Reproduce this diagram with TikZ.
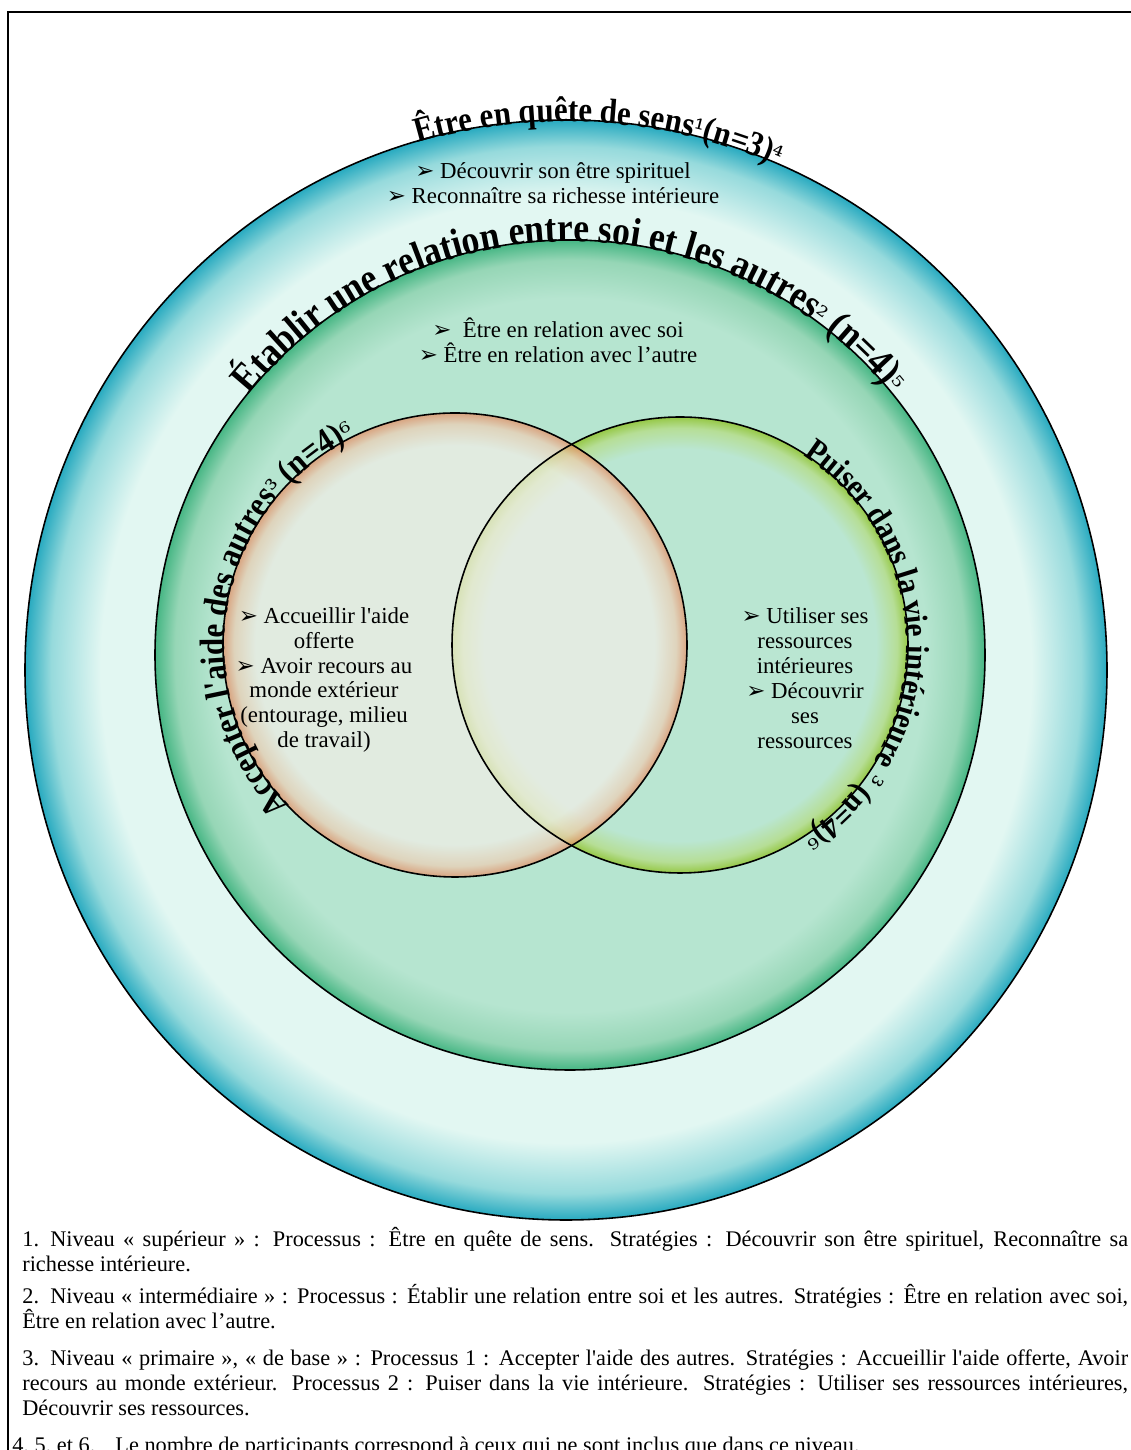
\documentclass[tikz,border=0pt]{standalone}
\usepackage{fontspec}
\setmainfont{Liberation Serif}[Ligatures=TeXOff]
\newfontfamily\labfam{Liberation Serif}[FakeStretch=0.88]
\newfontfamily\dingfont{DejaVu Sans}
\newfontfamily\supfam{DejaVu Serif}
\usetikzlibrary{calc,decorations.text}

\definecolor{tealrim}{RGB}{40,170,192}
\definecolor{tealmid}{RGB}{150,218,220}
\definecolor{tealpale}{RGB}{226,247,242}
\definecolor{greenrim}{RGB}{70,182,132}
\definecolor{greenmid}{RGB}{150,214,182}
\definecolor{greenpale}{RGB}{182,229,208}
\definecolor{orangerim}{RGB}{232,138,96}
\definecolor{orangemid}{RGB}{240,205,180}
\definecolor{orangepale}{RGB}{244,238,232}
\definecolor{limerim}{RGB}{150,200,70}
\definecolor{limemid}{RGB}{182,222,150}
\definecolor{limepale}{RGB}{186,230,210}

% rings: pale inside, coloured band at the rim (25bp is the edge of the path)
\pgfdeclareradialshading{outerring}{\pgfpoint{0bp}{0bp}}{color(0bp)=(tealpale); color(21.5bp)=(tealpale); color(23.8bp)=(tealmid); color(25bp)=(tealrim); color(50bp)=(tealrim)}
\pgfdeclareradialshading{middlering}{\pgfpoint{0bp}{0bp}}{color(0bp)=(greenpale); color(21.5bp)=(greenpale); color(23.8bp)=(greenmid); color(25bp)=(greenrim); color(50bp)=(greenrim)}
\pgfdeclareradialshading{orangering}{\pgfpoint{0bp}{0bp}}{color(0bp)=(orangepale); color(21.5bp)=(orangepale); color(23.8bp)=(orangemid); color(25bp)=(orangerim); color(50bp)=(orangerim)}
\pgfdeclareradialshading{limering}{\pgfpoint{0bp}{0bp}}{color(0bp)=(limepale); color(21.5bp)=(limepale); color(23.8bp)=(limemid); color(25bp)=(limerim); color(50bp)=(limerim)}

\newcommand\labfont{\labfam\fontsize{20}{23}\selectfont\bfseries}
\newcommand\biglabfont{\labfam\fontsize{23}{26}\selectfont\bfseries}
\newcommand\smalllabfont{\labfam\fontsize{19}{22}\selectfont\bfseries}
\newcommand\supfont{\supfam\fontsize{15}{17}\selectfont\mdseries}
\newcommand\puce{{\dingfont ➢}}

\begin{document}
\begin{tikzpicture}[x=0.02cm, y=0.02cm,
    ring/.style={draw=black, line width=0.9pt},
    bullets/.style={align=center, inner sep=0pt, font=\fontsize{13}{14.2}\selectfont},
    note/.style={anchor=base west, inner sep=0pt, text width=22.12cm, align=justify, font=\fontsize{12.7}{14.2}\selectfont},
    arclabel/.style={decorate, decoration={text along path, text={#1}, raise=-1pt}}
]
    \useasboundingbox (0,0) rectangle (1130,1450);
    \fill[white] (0,0) rectangle (1130,1450);

    % frame
    \draw[line width=1.3pt] (8,-10) -- (8,1438) -- (1140,1438);

    % centres
    \coordinate (oc) at (566,780);
    \coordinate (mc) at (570,795);
    \coordinate (lc) at (455,805);
    \coordinate (rc) at (680,805);

    % outer and middle rings
    \shade[shading=outerring] (oc) ellipse [x radius=541, y radius=550];
    \draw[ring] (oc) ellipse [x radius=541, y radius=550];
    \shade[shading=middlering] (mc) circle [radius=415];
    \draw[ring] (mc) circle [radius=415];

    % the two inner circles, overlapping
    \shade[shading=limering] (rc) circle [radius=228];
    \shade[shading=orangering, fill opacity=0.7] (lc) circle [radius=232];
    \draw[ring] (rc) circle [radius=228];
    \draw[ring] (lc) circle [radius=232];

    % titles along the rings
    \path[arclabel={|\labfont|Être en quête de sens|\supfont|¹|\labfont|(n=3)|\supfont|⁴}]
        ($(oc)+(106:541 and 550)$) arc [start angle=106, end angle=30, x radius=541, y radius=550];
    \path[arclabel={|\biglabfont|Établir une relation entre soi et les autres|\supfont|²|\biglabfont| (n=4)|\supfont|⁵}]
        ($(mc)+(141:415)$) arc [start angle=141, end angle=10, radius=415];
    \path[arclabel={|\labfont|Accepter l'aide des autres|\supfont|³|\labfont| (n=4)|\supfont|⁶}]
        ($(lc)+(224:232)$) arc [start angle=224, end angle=40, radius=232];
    \path[arclabel={|\smalllabfont|Puiser dans la vie intérieure|\supfont| ³|\smalllabfont| (n=4)|\supfont|⁶}]
        ($(rc)+(57:228)$) arc [start angle=57, end angle=-100, radius=228];

    % strategies
    \node[bullets] (sens) at (553,1267) {\puce{} Découvrir son être spirituel\\\puce{} Reconnaître sa richesse intérieure};
    \node[bullets] (relation) at (558,1110) {\puce{}\ \ Être en relation avec soi\\\puce{} Être en relation avec l’autre};
    \node[bullets] (aide) at (324,770) {\puce{} Accueillir l'aide\\offerte\\\puce{} Avoir recours au\\monde extérieur\\(entourage, milieu\\de travail)};
    \node[bullets] (puiser) at (805,772) {\puce{} Utiliser ses\\ressources\\intérieures\\\puce{} Découvrir\\ses\\ressources};

    % notes
    \node[note] (n1) at (22,203) {\noindent\hangindent=0.56cm\hangafter=1\makebox[0.56cm][l]{1.}Niveau «~supérieur~»~: Processus~: Être en quête de sens. Stratégies~: Découvrir son être spirituel, Reconnaître sa\linebreak richesse intérieure.};
    \node[note] (n2) at (22,146) {\noindent\hangindent=0.56cm\hangafter=1\makebox[0.56cm][l]{2.}Niveau «~intermédiaire~»~: Processus~: Établir une relation entre soi et les autres. Stratégies~: Être en relation avec soi,\linebreak Être en relation avec l’autre.};
    \node[note] (n3) at (22,84) {\noindent\hangindent=0.56cm\hangafter=1\makebox[0.56cm][l]{3.}Niveau «~primaire~», «~de base~»~: Processus 1~: Accepter l'aide des autres. Stratégies~: Accueillir l'aide offerte, Avoir\linebreak recours au monde extérieur. Processus 2~: Puiser dans la vie intérieure. Stratégies~: Utiliser ses ressources intérieures,\linebreak Découvrir ses ressources.};
    \node[anchor=base west, inner sep=0pt, font=\fontsize{12.7}{14.2}\selectfont] (n4) at (12,-3) {4, 5, et 6.\hspace{0.4cm}Le nombre de participants correspond à ceux qui ne sont inclus que dans ce niveau.};
\end{tikzpicture}
\end{document}
